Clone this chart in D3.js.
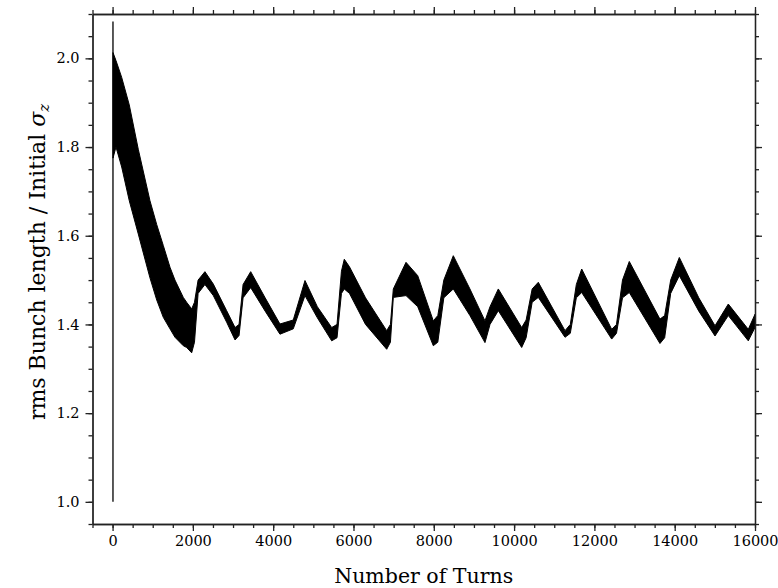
<!DOCTYPE html>
<html>
<head>
<meta charset="utf-8">
<script src="https://cdn.jsdelivr.net/npm/d3@7"></script>
<style>
  body { margin: 0; background: #fff; }
  svg text { font-family: "DejaVu Serif", serif; fill: #000; }
  .axis path, .axis line { stroke: #222; stroke-width: 1.3; }
</style>
</head>
<body>
<div id="chart"></div>
<script>
// Envelope of the rms bunch length (upper / lower edge of the dense band)
const turns = [10, 85, 227, 416, 640, 931, 1100, 1263, 1430, 1554, 1761, 1845, 1970,
  2040, 2130, 2300, 2509, 2841, 3050, 3150, 3250, 3440, 3800, 4169, 4500,
  4792, 5100, 5457, 5590, 5700, 5771, 5900, 6300, 6827, 6920, 6992, 7308,
  7600, 7988, 8100, 8250, 8486, 8900, 9275, 9400, 9607, 10189, 10300, 10450,
  10603, 11268, 11400, 11550, 11684, 12431, 12550, 12700, 12869, 13633, 13750,
  13900, 14115, 14600, 15004, 15335, 15833, 16000];
const upper = [2.013, 1.995, 1.957, 1.895, 1.795, 1.679, 1.625, 1.578, 1.529, 1.500, 1.461, 1.450, 1.435,
  1.450, 1.500, 1.519, 1.491, 1.431, 1.393, 1.400, 1.490, 1.519, 1.460, 1.401, 1.410,
  1.499, 1.440, 1.393, 1.400, 1.520, 1.547, 1.530, 1.460, 1.386, 1.400, 1.480, 1.540,
  1.510, 1.408, 1.420, 1.500, 1.555, 1.480, 1.408, 1.440, 1.480, 1.393, 1.410, 1.480,
  1.495, 1.386, 1.400, 1.490, 1.525, 1.389, 1.400, 1.500, 1.542, 1.412, 1.420,
  1.500, 1.551, 1.460, 1.397, 1.446, 1.389, 1.423];
const lower = [1.775, 1.800, 1.755, 1.679, 1.604, 1.505, 1.455, 1.416, 1.390, 1.371, 1.352, 1.348, 1.336,
  1.360, 1.470, 1.490, 1.465, 1.405, 1.365, 1.375, 1.460, 1.483, 1.430, 1.378, 1.390,
  1.465, 1.415, 1.363, 1.370, 1.470, 1.480, 1.470, 1.400, 1.344, 1.360, 1.461, 1.465,
  1.440, 1.352, 1.360, 1.460, 1.480, 1.420, 1.359, 1.400, 1.431, 1.348, 1.370, 1.450,
  1.461, 1.371, 1.380, 1.460, 1.472, 1.367, 1.380, 1.460, 1.472, 1.357, 1.370,
  1.470, 1.510, 1.430, 1.374, 1.420, 1.363, 1.393];
// initial spike at injection
const spikeTurns = [10, 10];
const spikeValues = [1.0, 2.083];

const xMajor = [0, 2000, 4000, 6000, 8000, 10000, 12000, 14000, 16000];
const yMajor = [1.0, 1.2, 1.4, 1.6, 1.8, 2.0];

const width = 778, height = 588;
const svg = d3.select("#chart").append("svg")
  .attr("width", width).attr("height", height);

const x = d3.scaleLinear().domain([-500, 16000]).range([92.5, 755]);
const y = d3.scaleLinear().domain([0.95, 2.1]).range([524, 14]);

const xMinor = d3.range(-500, 16001, 500);
const yMinor = d3.range(0, 24).map(i => 0.95 + i * 0.05).filter(v => v <= 2.1001);

const band = turns.map((t, i) => ({ t: t, hi: upper[i], lo: lower[i] }));

svg.append("path")
  .datum(band)
  .attr("fill", "#000")
  .attr("stroke", "#000")
  .attr("stroke-width", 1)
  .attr("stroke-linejoin", "round")
  .attr("d", d3.area().x(d => x(d.t)).y0(d => y(d.lo)).y1(d => y(d.hi)));

svg.append("path")
  .datum(spikeTurns.map((t, i) => ({ t: t, v: spikeValues[i] })))
  .attr("fill", "none")
  .attr("stroke", "#000")
  .attr("stroke-width", 1.3)
  .attr("d", d3.line().x(d => x(d.t)).y(d => y(d.v)));

// minor ticks on all four sides
function minorAxis(axis, vals, tr) {
  svg.append("g").attr("class", "axis").attr("transform", tr)
    .call(axis.tickValues(vals).tickSize(4).tickSizeOuter(0).tickFormat(""));
}
minorAxis(d3.axisBottom(x), xMinor, "translate(0,524)");
minorAxis(d3.axisTop(x), xMinor, "translate(0,14)");
minorAxis(d3.axisLeft(y), yMinor, "translate(92.5,0)");
minorAxis(d3.axisRight(y), yMinor, "translate(755,0)");

// major ticks
svg.append("g").attr("class", "axis").attr("transform", "translate(0,524)")
  .call(d3.axisBottom(x).tickValues(xMajor).tickSize(7).tickSizeOuter(0).tickPadding(5).tickFormat(d3.format("d")));
svg.append("g").attr("class", "axis").attr("transform", "translate(0,14)")
  .call(d3.axisTop(x).tickValues(xMajor).tickSize(7).tickSizeOuter(0).tickFormat(""));
svg.append("g").attr("class", "axis").attr("transform", "translate(92.5,0)")
  .call(d3.axisLeft(y).tickValues(yMajor).tickSize(7).tickSizeOuter(0).tickPadding(6).tickFormat(d3.format(".1f")));
svg.append("g").attr("class", "axis").attr("transform", "translate(755,0)")
  .call(d3.axisRight(y).tickValues(yMajor).tickSize(7).tickSizeOuter(0).tickFormat(""));

svg.selectAll("g.axis")
  .attr("font-family", "DejaVu Serif")
  .attr("font-size", 14.5);

// axis titles
svg.append("text")
  .attr("x", 423.7).attr("y", 583)
  .attr("text-anchor", "middle")
  .style("font-size", "20.5px")
  .text("Number of Turns");

const yt = svg.append("text")
  .attr("transform", "translate(45,262) rotate(-90)")
  .attr("text-anchor", "middle")
  .style("font-size", "22px");
yt.append("tspan").text("rms Bunch length / Initial ");
yt.append("tspan").style("font-style", "italic").text("σ");
yt.append("tspan").style("font-style", "italic").style("font-size", "15px").attr("dy", 4).text("z");
</script>
</body>
</html>
